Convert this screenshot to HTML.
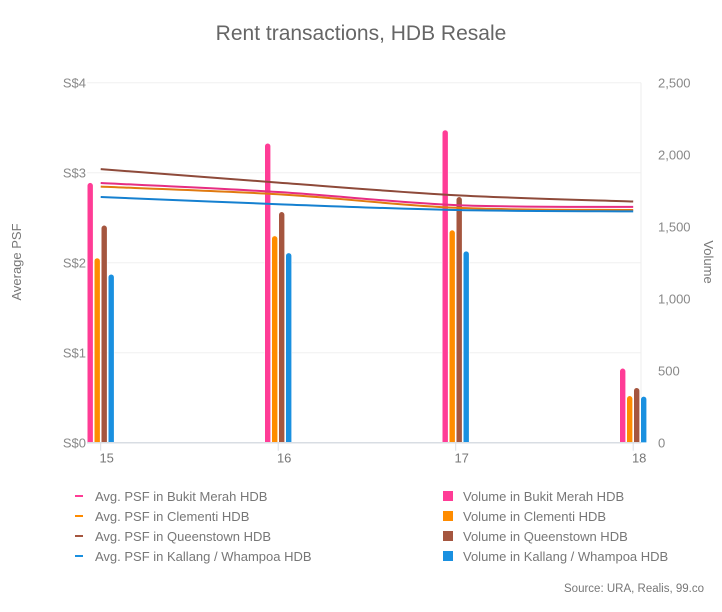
<!DOCTYPE html>
<html><head><meta charset="utf-8"><style>
body{margin:0;background:#fff;}
svg text{font-family:"Liberation Sans",sans-serif;}
</style></head><body>
<svg width="722" height="607" viewBox="0 0 722 607" xmlns="http://www.w3.org/2000/svg">
<rect width="722" height="607" fill="#fff"/>
<text x="361" y="40" text-anchor="middle" font-size="21" fill="#666">Rent transactions, HDB Resale</text>
<g id="grid"></g>
<g id="bars"></g>
<g id="lines"></g>
<g id="axes"></g>
<text transform="translate(21,262) rotate(-90)" text-anchor="middle" font-size="13" fill="#777">Average PSF</text>
<text transform="translate(704,262) rotate(90)" text-anchor="middle" font-size="13" fill="#777">Volume</text>
<g id="legend"></g>
<text x="704" y="592" text-anchor="end" font-size="11.5" fill="#777">Source: URA, Realis, 99.co</text>
</svg>
<script>
const categories=["15","16","17","18"];
const seriesNames=["Bukit Merah","Clementi","Queenstown","Kallang / Whampoa"];
const colors=["#ff3c96","#ff8c00","#a5563f","#1a90e0"];
const lineColors=["#e62d82","#e07a10","#8e4a3a","#1580d0"];
const volBukit=[1806,2080,2172,517];
const volClementi=[1283,1437,1477,326];
const volQueens=[1510,1604,1708,382];
const volKallang=[1170,1319,1331,322];
const psfBukit=[2.885,2.785,2.64,2.62];
const psfClementi=[2.845,2.76,2.61,2.585];
const psfQueens=[3.04,2.89,2.75,2.68];
const psfKallang=[2.73,2.65,2.585,2.57];
const leftTicks=[0,1,2,3,4];
const leftTickLabels=["S$0","S$1","S$2","S$3","S$4"];
const rightTicks=[0,500,1000,1500,2000,2500];
const rightTickLabels=["0","500","1,000","1,500","2,000","2,500"];

const NS="http://www.w3.org/2000/svg";
const base=442.7, topY=82.7, x0=100.7, dx=177.5, plotL=87, plotR=641;
const xS=i=>x0+i*dx;
const yL=v=>base-(v/4)*(base-topY);
const yR=v=>base-(v/2500)*(base-topY);
function mk(tag,attrs,parent){const e=document.createElementNS(NS,tag);for(const k in attrs)e.setAttribute(k,attrs[k]);parent.appendChild(e);return e;}
const grid=document.getElementById('grid'),bars=document.getElementById('bars'),lines=document.getElementById('lines'),axes=document.getElementById('axes'),legend=document.getElementById('legend');
leftTicks.forEach((t,i)=>{
  const y=yL(t);
  if(t>0){const g=mk('line',{x1:plotL,x2:plotR,y1:y,y2:y,stroke:'#f0f0f0','stroke-width':1},grid);
  
  }
  const tx=mk('text',{x:86,y:y+5,'text-anchor':'end','font-size':13,fill:'#888'},axes);
  tx.textContent=leftTickLabels[i];
  
  
});
rightTicks.forEach((t,i)=>{
  const tx=mk('text',{x:658,y:yR(t)+5,'font-size':13,fill:'#888'},axes);
  tx.textContent=rightTickLabels[i];
  
  
});
const vl=mk('line',{x1:641,x2:641,y1:topY,y2:base,stroke:'#eee','stroke-width':1},grid);


const vols=[volBukit,volClementi,volQueens,volKallang];
const offs=[-10.5,-3.5,3.5,10.5];
vols.forEach((arr,s)=>{arr.forEach((v,i)=>{
  const cx=xS(i)+offs[s], y=yR(v);
  const p=mk('path',{d:`M${cx-3},${base} L${cx-3},${y+3} A3,3 0 0 1 ${cx+3},${y+3} L${cx+3},${base} Z`,fill:colors[s],stroke:'#fff','stroke-width':0.6},bars);
  
  
});});
const bl=mk('line',{x1:plotL,x2:plotR,y1:base,y2:base,stroke:'#d8dde3','stroke-width':1.5},axes);


categories.forEach((c,i)=>{
  const tk=mk('line',{x1:xS(i),x2:xS(i),y1:base,y2:base+8,stroke:'#d8dde3'},axes);
  
  
  const t=mk('text',{x:xS(i)+6,y:base+20,'text-anchor':'middle','font-size':13,fill:'#777'},axes);
  t.textContent=c;
  
  
});
const psfs=[psfBukit,psfClementi,psfQueens,psfKallang];
psfs.forEach((arr,s)=>{
  const pts=arr.map((v,i)=>[xS(i),yL(v)]);
  let d=`M${pts[0][0]},${pts[0][1]}`;
  for(let i=0;i<pts.length-1;i++){
    const p0=pts[Math.max(0,i-1)],p1=pts[i],p2=pts[i+1],p3=pts[Math.min(pts.length-1,i+2)];
    const c1=[p1[0]+(p2[0]-p0[0])/6,p1[1]+(p2[1]-p0[1])/6],c2=[p2[0]-(p3[0]-p1[0])/6,p2[1]-(p3[1]-p1[1])/6];
    d+=` C${c1[0]},${c1[1]} ${c2[0]},${c2[1]} ${p2[0]},${p2[1]}`;
  }
  const l=mk('path',{d:d,fill:'none',stroke:lineColors[s],'stroke-width':2},lines);
  
  
});
seriesNames.forEach((n,s)=>{
  const y=496+s*20;
  const g1=mk('g',{},legend);
  
  
  mk('line',{x1:75,x2:83,y1:y,y2:y,stroke:colors[s],'stroke-width':2},g1);
  const t1=mk('text',{x:95,y:y+5,'font-size':13,fill:'#777'},g1);
  t1.textContent='Avg. PSF in '+n+' HDB';
  const g2=mk('g',{},legend);
  
  
  mk('rect',{x:443,y:y-5,width:10,height:10,fill:colors[s]},g2);
  const t2=mk('text',{x:463,y:y+5,'font-size':13,fill:'#777'},g2);
  t2.textContent='Volume in '+n+' HDB';
});
</script>
</body></html>
